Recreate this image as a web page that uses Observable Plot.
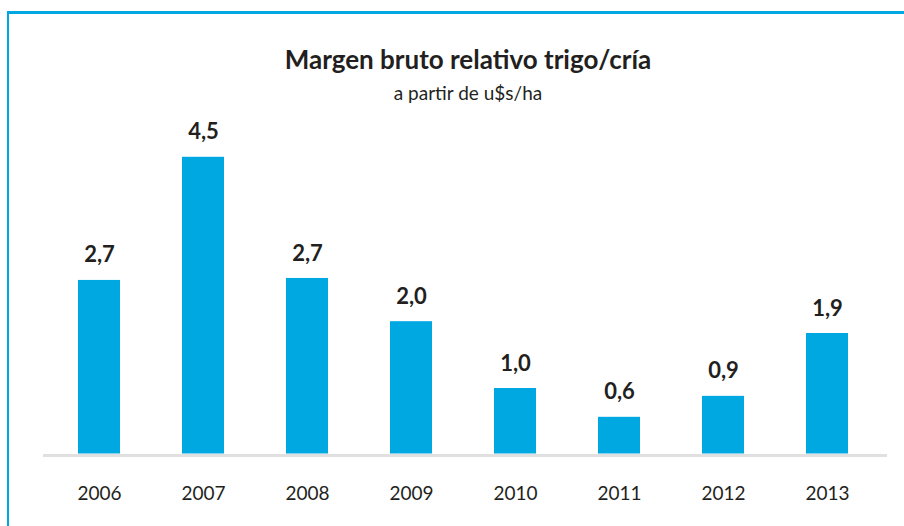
<!DOCTYPE html>
<html>
<head>
<meta charset="utf-8">
<script src="https://cdn.jsdelivr.net/npm/d3@7"></script>
<script src="https://cdn.jsdelivr.net/npm/@observablehq/plot@0.6"></script>
<style>
  html, body { margin: 0; padding: 0; background: #fff; }
  #wrap { position: relative; width: 904px; height: 526px; overflow: hidden; font-family: Lato, "Open Sans", sans-serif; }
  #topline { position: absolute; left: 7px; top: 11px; width: 897px; height: 3px; background: #00a8e1; }
  #leftline { position: absolute; left: 7px; top: 11px; width: 2px; height: 515px; background: #00a8e1; }
  #title { position: absolute; left: 0; top: 43px; width: 936px; text-align: center; font-weight: 700; font-size: 26px; color: #231f20; line-height: 32px; }
  #subtitle { position: absolute; left: 0; top: 81px; width: 936px; text-align: center; font-size: 19px; color: #231f20; line-height: 24px; }
  #chart { position: absolute; left: 0; top: 110px; }
</style>
</head>
<body>
<div id="wrap">
  <div id="topline"></div>
  <div id="leftline"></div>
  <div id="title">Margen bruto relativo trigo/cría</div>
  <div id="subtitle">a partir de u$s/ha</div>
  <div id="chart"></div>
</div>
<script>
const years = ["2006", "2007", "2008", "2009", "2010", "2011", "2012", "2013"];
const values = [2.65, 4.53, 2.68, 2.02, 1.0, 0.56, 0.88, 1.84];
const labels = ["2,7", "4,5", "2,7", "2,0", "1,0", "0,6", "0,9", "1,9"];

const data = years.map((y, i) => ({year: y, value: values[i], label: labels[i]}));

const chart = Plot.plot({
  width: 904,
  height: 416,
  marginLeft: 47,
  marginRight: 25,
  marginTop: 16,
  marginBottom: 72.5,
  style: {fontFamily: "Lato, 'Open Sans', sans-serif", background: "transparent", overflow: "visible"},
  x: {domain: years, paddingInner: 0.596, paddingOuter: 0.298, label: null},
  y: {domain: [0, 5], axis: null},
  marks: [
    Plot.barY(data, {x: "year", y: "value", fill: "#00a8e1"}),
    Plot.ruleY([0], {stroke: "#e0e0e0", strokeWidth: 3, dy: 1.5, insetLeft: -4, insetRight: -8}),
    Plot.text(data, {x: "year", y: "value", text: "label", dy: -25, lineAnchor: "middle", fontSize: 22, fontWeight: 700, fill: "#231f20"}),
    Plot.axisX({tickSize: 0, tickPadding: 32, fontSize: 19, fill: "#231f20", label: null})
  ]
});
document.getElementById("chart").appendChild(chart);
</script>
</body>
</html>
